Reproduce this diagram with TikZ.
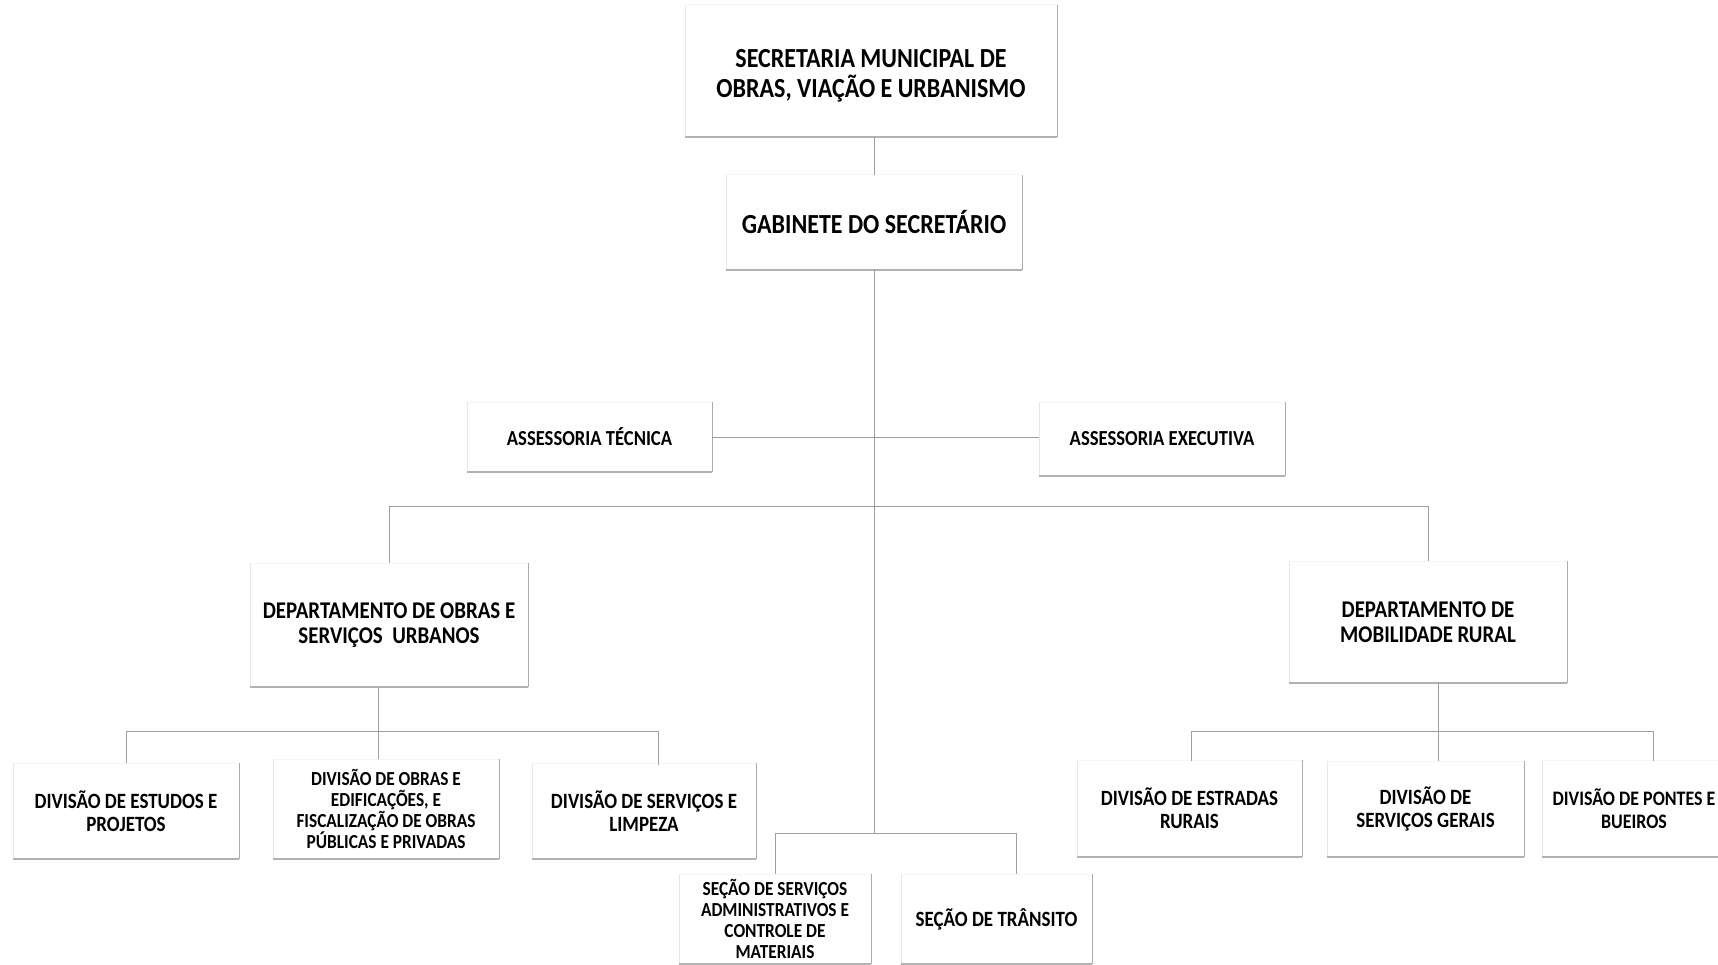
\documentclass[tikz,border=0pt]{standalone}
\usepackage{fontspec}
\setmainfont{Carlito}
\newfontfamily\tallfont[FakeStretch=0.87]{Carlito}
\tikzset{
  orgbox/.style={rectangle, inner sep=0pt, align=center, text=black},
  fbig/.style={font=\tallfont\fontsize{27.6}{30}\selectfont\bfseries},
  fdep/.style={font=\tallfont\fontsize{24}{25}\selectfont\bfseries},
  fmid/.style={font=\tallfont\fontsize{21.8}{23}\selectfont\bfseries},
  fpb/.style={font=\tallfont\fontsize{20.6}{23}\selectfont\bfseries},
  fass/.style={font=\tallfont\fontsize{21.4}{23}\selectfont\bfseries},
  fsm/.style={font=\tallfont\fontsize{19.9}{21}\selectfont\bfseries},
  boxr/.style={draw=gray!65, line width=0.8pt},
  boxb/.style={draw=gray!60, line width=2.2pt},
  boxl/.style={draw=gray!18, line width=0.6pt},
  boxt/.style={draw=gray!7, line width=0.6pt},
  conn/.style={draw=gray!75, line width=1pt},
}
\newcommand\orgedges[1]{%
  \draw[boxt] (#1.north west) -- (#1.north east);
  \draw[boxl] (#1.north west) -- (#1.south west);
  \draw[boxr] (#1.north east) -- (#1.south east);
  \draw[boxb] (#1.south west) -- (#1.south east);}
\begin{document}
\begin{tikzpicture}[x=1pt,y=-1pt]
\fill[white] (0,0) rectangle (1718,965);
\useasboundingbox (0,0) rectangle (1718,965);
\begin{scope}
\clip (0,0) rectangle (1718,965);
% nodes
\node[orgbox,minimum width=372pt,minimum height=132pt,
  label={[orgbox,fbig,yshift=-5pt]center:SECRETARIA MUNICIPAL DE\\OBRAS, VIAÇÃO E URBANISMO}] (top) at (871,71) {};
\node[orgbox,fbig,minimum width=296pt,minimum height=95pt] (gab) at (874,222.5) {GABINETE DO SECRETÁRIO};
\node[orgbox,fass,minimum width=245pt,minimum height=70pt] (tec) at (589.5,437) {ASSESSORIA TÉCNICA};
\node[orgbox,fass,minimum width=246pt,minimum height=74pt] (exe) at (1162,439) {ASSESSORIA EXECUTIVA};
\node[orgbox,fdep,minimum width=278pt,minimum height=124pt] (dob) at (389,625) {DEPARTAMENTO DE OBRAS E\\SERVIÇOS\ \ URBANOS};
\node[orgbox,fdep,minimum width=278pt,minimum height=121pt] (dmr) at (1428,622) {DEPARTAMENTO DE\\MOBILIDADE RURAL};
\node[orgbox,fmid,minimum width=226pt,minimum height=95pt] (est) at (126,811) {DIVISÃO DE ESTUDOS E\\PROJETOS};
\node[orgbox,fsm,minimum width=226pt,minimum height=99pt] (oed) at (386,809) {DIVISÃO DE OBRAS E\\EDIFICAÇÕES, E\\FISCALIZAÇÃO DE OBRAS\\PÚBLICAS E PRIVADAS};
\node[orgbox,fmid,minimum width=224pt,minimum height=96pt] (lim) at (644,811) {DIVISÃO DE SERVIÇOS E\\LIMPEZA};
\node[orgbox,fmid,minimum width=225pt,minimum height=97pt] (er) at (1189.5,808.5) {DIVISÃO DE ESTRADAS\\RURAIS};
\node[orgbox,fmid,minimum width=197pt,minimum height=96pt] (sg) at (1425.5,809) {DIVISÃO DE\\SERVIÇOS GERAIS};
\node[orgbox,fpb,minimum width=184pt,minimum height=97pt] (pb) at (1634,808.5) {DIVISÃO DE PONTES E\\BUEIROS};
\node[orgbox,fsm,minimum width=192pt,minimum height=89pt] (sa) at (775,919) {SEÇÃO DE SERVIÇOS\\ADMINISTRATIVOS E\\CONTROLE DE\\MATERIAIS};
\node[orgbox,fmid,minimum width=191pt,minimum height=89pt] (tr) at (996.5,919) {SEÇÃO DE TRÂNSITO};
\foreach \n in {top,gab,tec,exe,dob,dmr,est,oed,lim,er,sg,pb,sa,tr} {\orgedges{\n}}
% junction coordinates
\coordinate (b1) at (874,506);
\coordinate (b2) at (378,731);
\coordinate (b3) at (1438,731);
\coordinate (b4) at (874,833);
\coordinate (dl) at (658,765);
\coordinate (de) at (1191,761);
\coordinate (dp) at (1653,761);
\coordinate (dt) at (1016,874);
% connectors
\draw[conn] (top.south -| gab.north) -- (gab.north);
\draw[conn] (gab.south) -- (b4);
\draw[conn] (tec.east) -- (tec.east -| exe.west);
\draw[conn] (dob.north) -- (dob.north |- b1) -- (dmr.north |- b1) -- (dmr.north);
\draw[conn] (dob.south -| b2) -- (b2);
\draw[conn] (est.north) -- (est.north |- b2) -- (dl |- b2) -- (dl);
\draw[conn] (b2) -- (oed.north -| b2);
\draw[conn] (dmr.south -| b3) -- (b3);
\draw[conn] (de) -- (de |- b3) -- (dp |- b3) -- (dp);
\draw[conn] (b3) -- (sg.north -| b3);
\draw[conn] (sa.north) -- (sa.north |- b4) -- (dt |- b4) -- (dt);
\end{scope}
\end{tikzpicture}
\end{document}
